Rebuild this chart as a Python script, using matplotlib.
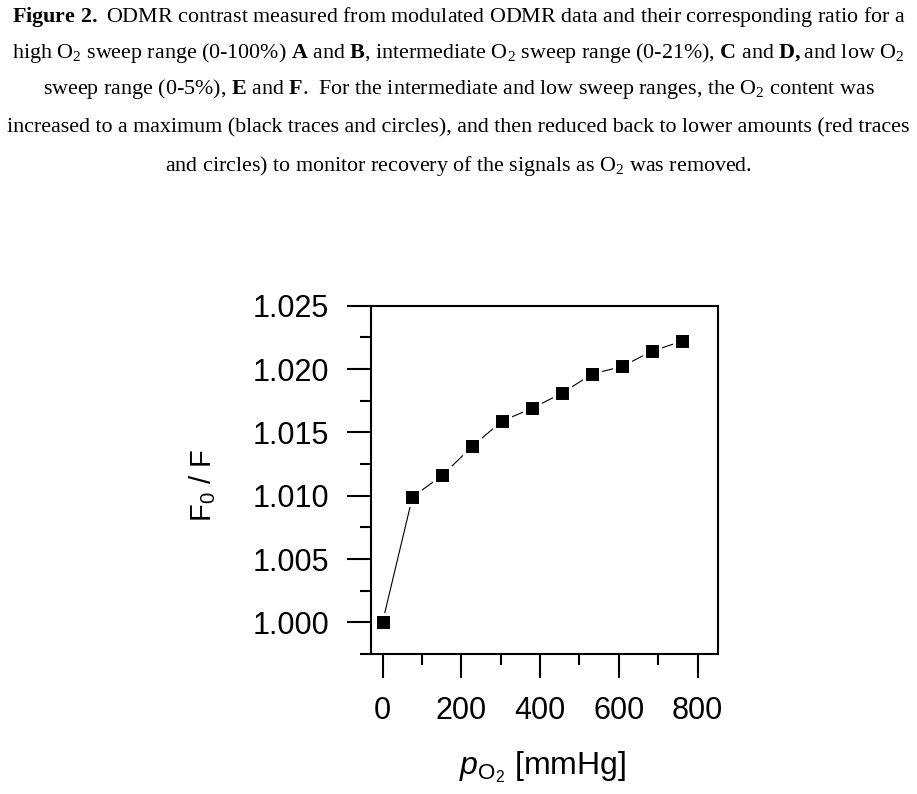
import numpy as np
import matplotlib.pyplot as plt
from matplotlib.ticker import MultipleLocator, FormatStrFormatter

plt.rcParams['mathtext.fontset'] = 'custom'
plt.rcParams['mathtext.rm'] = 'Liberation Serif'
plt.rcParams['mathtext.bf'] = 'Liberation Serif:bold'
plt.rcParams['mathtext.sf'] = 'Liberation Sans'
plt.rcParams['mathtext.it'] = 'Liberation Sans:italic'

# O2 partial pressure [mmHg] and F0/F ratio
p_o2 = [0, 76, 152, 228, 304, 380, 456, 532, 608, 684, 760]
ratio = [1.0000, 1.0099, 1.0116, 1.0139, 1.0159, 1.0169, 1.0181,
         1.0196, 1.0202, 1.0214, 1.0222]

caption = [
    r"$\mathbf{Figure\ 2.}$ ODMR contrast measured from modulated ODMR data and their corresponding ratio for a",
    r"high O$_2$ sweep range (0-100%) $\mathbf{A}$ and $\mathbf{B}$, intermediate O$_2$ sweep range (0-21%), $\mathbf{C}$ and $\mathbf{D,}$and low O$_2$",
    r"sweep range (0-5%), $\mathbf{E}$ and $\mathbf{F}$.  For the intermediate and low sweep ranges, the O$_2$ content was",
    r"increased to a maximum (black traces and circles), and then reduced back to lower amounts (red traces",
    r"and circles) to monitor recovery of the signals as O$_2$ was removed.",
]
caption_y = [17, 53, 89, 128, 166]

fig = plt.figure(figsize=(9.17, 7.94), dpi=100)

for line, y in zip(caption, caption_y):
    fig.text(0.5, 1 - y / 794, line, ha='center', va='center',
             family='Liberation Serif', fontsize=15.8)

ax = fig.add_axes([370.7 / 917, 1 - 654 / 794, (718 - 370.7) / 917, (654 - 305.7) / 794])

# line with gaps around the markers (white marker edge)
ax.plot(p_o2, ratio, color='black', lw=0.8, marker='s',
        markersize=11.5, markerfacecolor='black',
        markeredgecolor='white', markeredgewidth=2.2, clip_on=False)

ax.set_xlim(-30, 852)
ax.set_ylim(0.9975, 1.025)

ax.xaxis.set_major_locator(MultipleLocator(200))
ax.xaxis.set_minor_locator(MultipleLocator(100))
ax.yaxis.set_major_locator(MultipleLocator(0.005))
ax.yaxis.set_minor_locator(MultipleLocator(0.0025))
ax.yaxis.set_major_formatter(FormatStrFormatter('%.3f'))

for s in ax.spines.values():
    s.set_linewidth(1.5)

ax.tick_params(which='both', direction='out', width=1.5, top=False, right=False,
               labelsize=22)
ax.tick_params(which='major', length=17, pad=13)
ax.tick_params(which='minor', length=8)
for lab in ax.get_xticklabels() + ax.get_yticklabels():
    lab.set_family('Liberation Sans')

ax.set_ylabel(r'F$_{\mathsf{0}}$ / F', family='Liberation Sans', fontsize=21, va='center')
ax.yaxis.set_label_coords(-0.483, 0.485)
ax.set_xlabel(r'$\mathit{p}_{\mathsf{O_2}}$ [mmHg]', family='Liberation Sans',
              fontsize=23, va='center')
ax.xaxis.set_label_coords(0.495, -0.324)

fig.savefig('out.png', dpi=100)
